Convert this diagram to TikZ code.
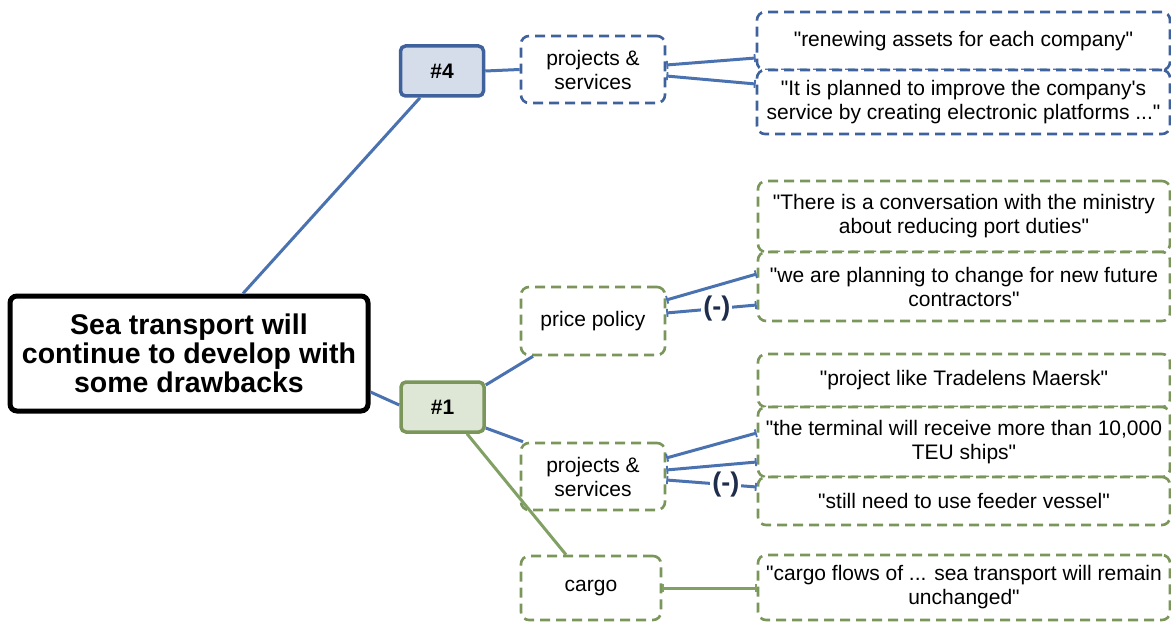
\documentclass[tikz,border=0pt]{standalone}
\usepackage{fontspec}
\setmainfont{Liberation Sans}[Ligatures=TeXOff]
\usetikzlibrary{arrows.meta,calc}

\definecolor{linkblue}{RGB}{74,114,176}
\definecolor{bordblue}{RGB}{64,98,156}
\definecolor{fillblue}{RGB}{214,221,234}
\definecolor{bordgreen}{RGB}{122,150,90}
\definecolor{fillgreen}{RGB}{222,230,214}
\definecolor{linkgreen}{RGB}{128,160,100}
\definecolor{negcol}{RGB}{30,45,75}

\begin{document}
\begin{tikzpicture}[x=1pt,y=-1pt,
  root/.style={draw=black, line width=5pt, rounded corners=7pt, fill=white,
    align=center, inner sep=0pt, font=\bfseries\fontsize{28.5}{29}\selectfont},
  hub/.style={line width=3.5pt, rounded corners=5pt, inner sep=0pt,
    minimum width=83pt, minimum height=50pt, font=\bfseries\fontsize{21}{24}\selectfont},
  hubblue/.style={hub, draw=bordblue, fill=fillblue},
  hubgreen/.style={hub, draw=bordgreen, fill=fillgreen},
  topic/.style={line width=2.6pt, dash pattern=on 10pt off 6pt, rounded corners=8pt,
    fill=white, align=center, inner sep=0pt, font=\fontsize{21}{24}\selectfont},
  topicblue/.style={topic, draw=bordblue},
  topicgreen/.style={topic, draw=bordgreen},
  link/.style={draw=linkblue, line width=3pt},
  glink/.style={draw=linkgreen, line width=3pt},
  ends/.style={{Bar[width=8pt,line width=1.8pt]}-{Bar[width=8pt,line width=1.8pt]}},
  neg/.style={fill=white, text=negcol, inner sep=2pt,
    font=\bfseries\fontsize{27}{27}\selectfont}
]
\useasboundingbox (0,0) rectangle (1171,623);

% central statement
\node[root, minimum width=358pt, minimum height=115pt] (main) at (189,353.5)
  {Sea transport will\\continue to develop with\\some drawbacks};

% branch #4
\node[hubblue] (n4) at (442,71) {\#4};
\node[topicblue, minimum width=144pt, minimum height=67pt] (bps) at (593,69.5)
  {projects \&\\services};
\node[topicblue, minimum width=413pt, minimum height=58pt] (q1) at (963.5,41)
  {"renewing assets for each company"};
\node[topicblue, minimum width=413pt, minimum height=64pt] (q2) at (963.5,102)
  {"It is planned to improve the company's\\service by creating electronic platforms ..."};

% branch #1
\node[hubgreen] (n1) at (442.5,407) {\#1};
\node[topicgreen, minimum width=144pt, minimum height=68pt] (price) at (593,321)
  {price policy};
\node[topicgreen, minimum width=412pt, minimum height=71pt] (q3) at (964,216.5)
  {"There is a conversation with the ministry\\about reducing port duties"};
\node[topicgreen, minimum width=412pt, minimum height=69pt] (q4) at (964,286.5)
  {"we are planning to change for new future\\contractors"};

\node[topicgreen, minimum width=144pt, minimum height=67pt] (gps) at (593,476.5)
  {projects \&\\services};
\node[topicgreen, minimum width=412pt, minimum height=53pt] (q5) at (964,380.5)
  {"project like Tradelens Maersk"};
\node[topicgreen, minimum width=412pt, minimum height=70pt] (q6) at (964,442)
  {"the terminal will receive more than 10,000\\TEU ships"};
\node[topicgreen, minimum width=412pt, minimum height=48pt] (q7) at (964,501)
  {"still need to use feeder vessel"};

\node[topicgreen, minimum width=140pt, minimum height=64pt] (cargo) at (591,588)
  {cargo};
\node[topicgreen, minimum width=412pt, minimum height=65pt] (q8) at (964,587.5)
  {"cargo flows of ... sea transport will remain\\unchanged"};

% connectors from the central statement
\draw[link] (main.north -| 243,0) -- (n4.south -| 420,0);
\draw[link] (main.east |- 0,392) -- (n1.west |- 0,405);

% connectors of branch #4
\draw[link] (n4.east) -- (bps.west);
\draw[link, ends] (bps.east |- 0,65) -- (q1.west |- 0,58);
\draw[link, ends] (bps.east |- 0,76) -- (q2.west |- 0,84);

% connectors of branch #1
\draw[link] (n1.east |- 0,385) -- (price.south -| 533,0);
\draw[link] (n1.east |- 0,428) -- (gps.north -| 523,0);
\draw[glink] (n1.south -| 467,0) -- (cargo.north -| 566,0);

\draw[link, ends] (price.east |- 0,300) -- (q4.west |- 0,274);
\draw[link, ends] (price.east |- 0,313) -- node[neg, pos=0.56] (neg1) {(-)} (q4.west |- 0,305);

\draw[link, ends] (gps.east |- 0,458) -- (q6.west |- 0,433);
\draw[link, ends] (gps.east |- 0,470) -- (q6.west |- 0,462);
\draw[link, ends] (gps.east |- 0,480) -- node[neg, pos=0.66] (neg2) {(-)} (q7.west |- 0,487);

\draw[glink, ends] (cargo.east) -- (q8.west |- 0,588);
\end{tikzpicture}
\end{document}
